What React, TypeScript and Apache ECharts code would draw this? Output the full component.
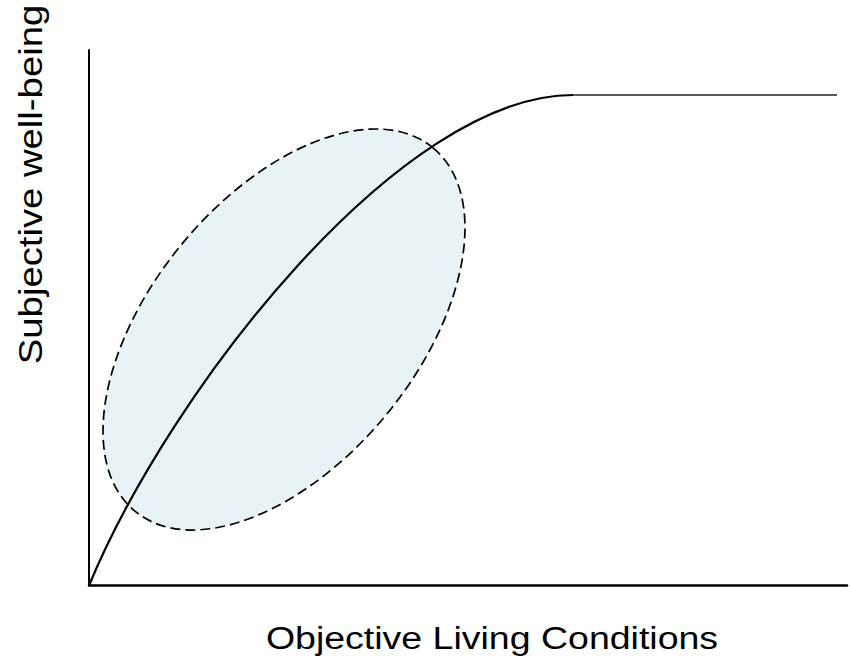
import React, { useEffect, useRef } from "react";
import * as echarts from "echarts";

// Rising part of the curve as a cubic Bezier: start, control 1, control 2, end (x, y in axis units 0..100)
const curveStart = [0, 0];
const curveCtrl1 = [10.69, 36.51];
const curveCtrl2 = [41.03, 91.6];
const curveEnd = [63.85, 91.6];
// Plateau after saturation
const plateauX = [63.85, 98.68];
const plateauY = [91.6, 91.6];
// Ellipse extreme points: left, right, top, bottom (x, y)
const ellipseExtremes = [1.85, 27.17, 49.6, 66.39, 37.07, 85.25, 13.72, 10.36];

const xTitle = "Objective Living Conditions";
const yTitle = "Subjective well-being";

export default function App() {
  const ref = useRef<HTMLDivElement>(null);
  useEffect(() => {
    document.body.style.margin = "0";
    if (!ref.current) return;
    const chart = echarts.init(ref.current, undefined, { renderer: "svg" });
    const plateauData = plateauX.map((x, i) => [x, plateauY[i]]);
    const bezierData = [[...curveStart, ...curveCtrl1, ...curveCtrl2, ...curveEnd]];
    const font = "'Liberation Sans', Arial, Helvetica, sans-serif";
    chart.setOption({
      animation: false,
      grid: { left: 89, right: 3, top: 50, bottom: 75.5 },
      xAxis: {
        type: "value",
        min: 0,
        max: 100,
        axisLine: { show: true, lineStyle: { color: "#000", width: 2.5 } },
        axisTick: { show: false },
        axisLabel: { show: false },
        splitLine: { show: false },
      },
      yAxis: {
        type: "value",
        min: 0,
        max: 100,
        axisLine: { show: true, lineStyle: { color: "#000", width: 2 } },
        axisTick: { show: false },
        axisLabel: { show: false },
        splitLine: { show: false },
      },
      graphic: [
        {
          type: "text",
          x: 492,
          y: 638,
          scaleX: 1.21,
          style: {
            text: xTitle,
            fontSize: 31,
            fontFamily: font,
            fill: "#000",
            align: "center",
            verticalAlign: "middle",
          },
        },
        {
          type: "text",
          x: 30.5,
          y: 184.5,
          rotation: Math.PI / 2,
          scaleX: 1.16,
          style: {
            text: yTitle,
            fontSize: 33,
            fontFamily: font,
            fill: "#000",
            align: "center",
            verticalAlign: "middle",
          },
        },
      ],
      series: [
        {
          type: "custom",
          coordinateSystem: "cartesian2d",
          silent: true,
          dimensions: ["lx", "ly", "rx", "ry", "tx", "ty", "bx", "by"],
          encode: { x: [0, 2, 4, 6], y: [1, 3, 5, 7] },
          data: [ellipseExtremes],
          renderItem: (params: any, api: any) => {
            const L = api.coord([api.value(0), api.value(1)]);
            const R = api.coord([api.value(2), api.value(3)]);
            const T = api.coord([api.value(4), api.value(5)]);
            const B = api.coord([api.value(6), api.value(7)]);
            const cx = (L[0] + R[0]) / 2;
            const cy = (T[1] + B[1]) / 2;
            const w = (R[0] - L[0]) / 2;
            const h = (B[1] - T[1]) / 2;
            const sxx = w * w;
            const syy = h * h;
            const sxy =
              ((R[1] - cy) * w - (L[1] - cy) * w + (B[0] - cx) * h - (T[0] - cx) * h) / 4;
            const m = (sxx + syy) / 2;
            const d = Math.sqrt(((sxx - syy) / 2) ** 2 + sxy * sxy);
            const l1 = m + d;
            const l2 = m - d;
            const ang = Math.atan2(l1 - sxx, sxy);
            return {
              type: "group",
              x: cx,
              y: cy,
              rotation: -ang,
              children: [
                {
                  type: "ellipse",
                  shape: { cx: 0, cy: 0, rx: Math.sqrt(l1), ry: Math.sqrt(l2) },
                  style: {
                    fill: "#E7F3F5",
                    stroke: "#000",
                    lineWidth: 1.7,
                    lineDash: [10, 5],
                  },
                },
              ],
            };
          },
        },
        {
          type: "custom",
          coordinateSystem: "cartesian2d",
          silent: true,
          dimensions: ["x0", "y0", "x1", "y1", "x2", "y2", "x3", "y3"],
          encode: { x: [0, 2, 4, 6], y: [1, 3, 5, 7] },
          data: bezierData,
          renderItem: (params: any, api: any) => {
            const p0 = api.coord([api.value(0), api.value(1)]);
            const p1 = api.coord([api.value(2), api.value(3)]);
            const p2 = api.coord([api.value(4), api.value(5)]);
            const p3 = api.coord([api.value(6), api.value(7)]);
            return {
              type: "bezierCurve",
              shape: {
                x1: p0[0],
                y1: p0[1],
                cpx1: p1[0],
                cpy1: p1[1],
                cpx2: p2[0],
                cpy2: p2[1],
                x2: p3[0],
                y2: p3[1],
              },
              style: { stroke: "#000", lineWidth: 2.2, fill: "none" },
            };
          },
        },
        {
          type: "line",
          data: plateauData,
          symbol: "none",
          lineStyle: { color: "#222", width: 1.3 },
          silent: true,
        },
      ],
    });
    return () => chart.dispose();
  }, []);
  return <div ref={ref} style={{ width: 850, height: 661 }} />;
}
